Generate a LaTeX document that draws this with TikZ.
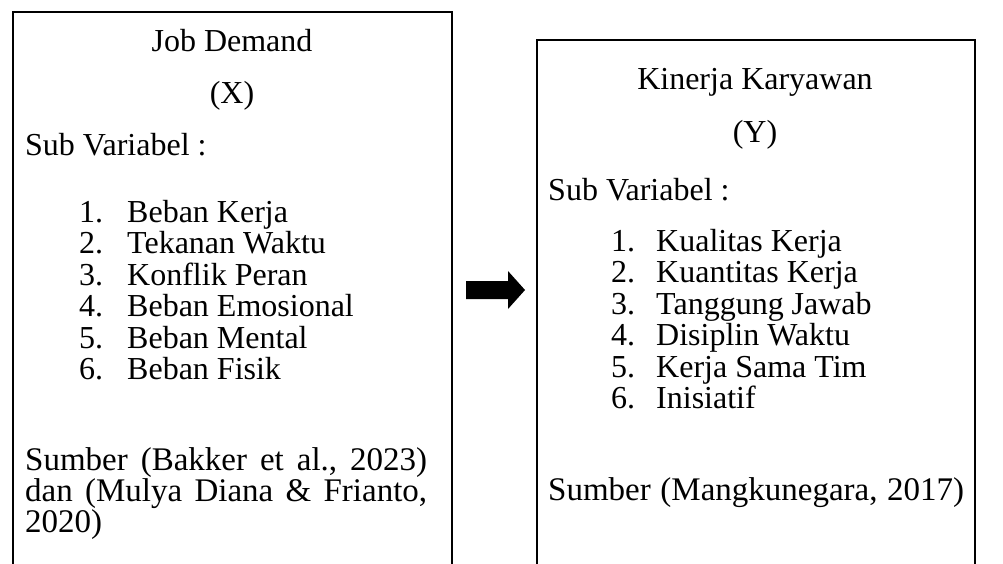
\documentclass[tikz,border=0pt]{standalone}
\usepackage{fontspec}
\setmainfont{Liberation Serif}
\begin{document}
\begin{tikzpicture}[x=1pt,y=-1pt,
  boxline/.style={line width=2.3pt,black},
  txt/.style={inner sep=0pt,anchor=base west,font=\fontsize{32}{38}\selectfont},
  stxt/.style={inner sep=0pt,anchor=base west,font=\fontsize{33}{38}\selectfont},
  ctxt/.style={inner sep=0pt,anchor=base,font=\fontsize{32}{38}\selectfont},
  blockarrow/.style={fill=black,draw=none}]
\useasboundingbox (0,0) rectangle (1003,563);
% left box
\coordinate (lbl) at (13,575);
\coordinate (ltl) at (13,12);
\coordinate (ltr) at (452,12);
\coordinate (lbr) at (452,575);
\draw[boxline] (lbl) -- (ltl) -- (ltr) -- (lbr);
% right box
\coordinate (rbl) at (537,575);
\coordinate (rtl) at (537,40);
\coordinate (rtr) at (975,40);
\coordinate (rbr) at (975,575);
\draw[boxline] (rbl) -- (rtl) -- (rtr) -- (rbr);
% arrow
\fill[blockarrow] (466,281) -- (508,281) -- (508,271) -- (525,290) -- (508,309) -- (508,299) -- (466,299) -- cycle;
% left texts
\node[ctxt] (jd) at (232,51) {Job Demand};
\node[ctxt] (x) at (232,103) {(X)};
\node[txt] (lsub) at (25,155) {Sub Variabel :};
\foreach \i/\t [count=\k] in {222/Beban Kerja,253/Tekanan Waktu,285/Konflik Peran,316/Beban Emosional,348/Beban Mental,379/Beban Fisik}{
  \node[txt] (ln\k) at (79,\i) {\k.};
  \node[txt] (li\k) at (127,\i) {\t};
}
\node[stxt] (ls1) at (25,470) {\hbox to 402pt{Sumber\hfill(Bakker\hfill et\hfill al.,\hfill 2023)}};
\node[stxt] (ls2) at (25,501) {\hbox to 402pt{dan\hfill(Mulya\hfill Diana\hfill \&\hfill Frianto,}};
\node[stxt] (ls3) at (25,532) {2020)};
% right texts
\node[ctxt] (kk) at (755,89) {Kinerja Karyawan};
\node[ctxt] (y) at (755,142) {(Y)};
\node[txt] (rsub) at (548,200) {Sub Variabel :};
\foreach \i/\t [count=\k] in {251/Kualitas Kerja,282/Kuantitas Kerja,314/Tanggung Jawab,345/Disiplin Waktu,377/Kerja Sama Tim,408/Inisiatif}{
  \node[txt] (rn\k) at (611,\i) {\k.};
  \node[txt] (ri\k) at (656,\i) {\t};
}
\node[stxt] (rs1) at (548,500) {\hbox to 416pt{Sumber\hfill(Mangkunegara,\hfill 2017)}};
\end{tikzpicture}
\end{document}
